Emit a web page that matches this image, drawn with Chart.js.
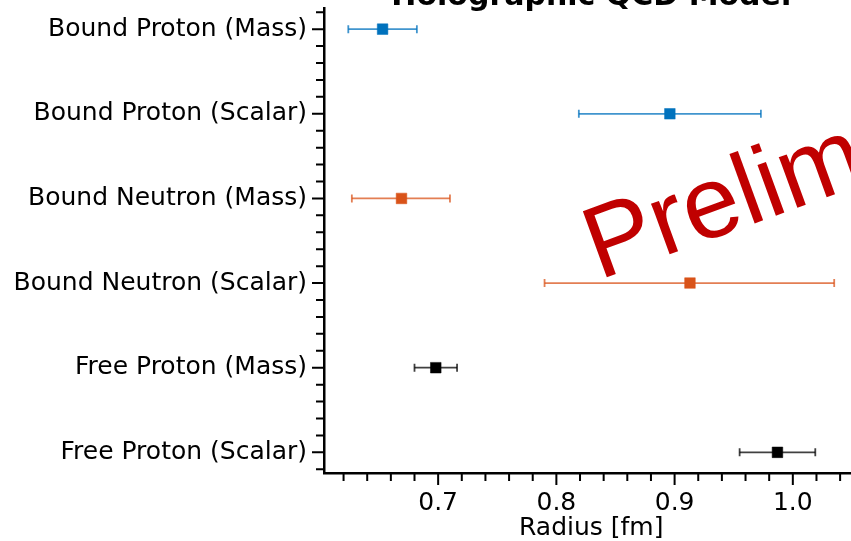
<!DOCTYPE html>
<html>
<head>
<meta charset="utf-8">
<script src="https://cdn.jsdelivr.net/npm/chart.js@4.4.0/dist/chart.umd.min.js"></script>
<style>
  html, body { margin: 0; padding: 0; background: #fff; overflow: hidden; }
  #wrap { position: absolute; left: 0; top: 0; width: 900px; height: 541px; }
</style>
</head>
<body>
<div id="wrap"><canvas id="radii" width="900" height="541"></canvas></div>
<script>
// radius estimates with their error ranges, one row per quantity
const categories = [
  'Bound Proton (Mass)',
  'Bound Proton (Scalar)',
  'Bound Neutron (Mass)',
  'Bound Neutron (Scalar)',
  'Free Proton (Mass)',
  'Free Proton (Scalar)'
];
const radius  = [0.653, 0.896, 0.669, 0.913, 0.698, 0.987];
const errLow  = [0.624, 0.819, 0.627, 0.790, 0.680, 0.955];
const errHigh = [0.682, 0.973, 0.710, 1.035, 0.716, 1.019];
const xMajor  = [0.7, 0.8, 0.9, 1.0];

const markerColors = ['#0072BD', '#0072BD', '#D95319', '#D95319', '#000000', '#000000'];
const barColors = [
  'rgba(0,114,189,0.75)', 'rgba(0,114,189,0.75)',
  'rgba(217,83,25,0.75)', 'rgba(217,83,25,0.75)',
  'rgba(0,0,0,0.75)', 'rgba(0,0,0,0.75)'
];

// 5% margin on each side, like matplotlib autoscaling
const lo = Math.min(...errLow), hi = Math.max(...errHigh);
const xMin = lo - 0.05 * (hi - lo);
const xMax = hi + 0.05 * (hi - lo);

const font = { family: 'DejaVu Sans', size: 25 };

// outward major/minor tick marks on both axes
const axisTicks = {
  id: 'axisTicks',
  afterDraw(chart) {
    const { ctx, chartArea: a, scales: { x, y } } = chart;
    ctx.save();
    ctx.strokeStyle = '#000';
    ctx.lineWidth = 2;
    ctx.beginPath();
    for (let i = 31; i <= 52; i++) {
      const px = x.getPixelForValue(i * 0.02);
      if (px < a.left || px > a.right) continue;
      const len = i % 5 === 0 ? 11.5 : 7.5;
      ctx.moveTo(px, a.bottom);
      ctx.lineTo(px, a.bottom + len);
    }
    for (let j = -1; j <= 26; j++) {
      const py = y.getPixelForValue(j * 0.2);
      const len = j % 5 === 0 ? 12 : 8;
      ctx.moveTo(a.left, py);
      ctx.lineTo(a.left - len, py);
    }
    ctx.stroke();
    ctx.restore();
  }
};

// heading above the axes and the red stamp across the plot
const headings = {
  id: 'headings',
  afterDraw(chart) {
    const { ctx, chartArea: a } = chart;
    ctx.save();
    ctx.fillStyle = '#000';
    ctx.font = 'bold 30px "DejaVu Sans"';
    ctx.textAlign = 'center';
    ctx.textBaseline = 'alphabetic';
    ctx.fillText('Holographic QCD Model', (a.left + a.right) / 2, a.top - 3);

    ctx.translate(a.left + 275, a.top + 272);
    ctx.rotate(-20 * Math.PI / 180);
    ctx.fillStyle = '#C00000';
    ctx.font = '102px "Liberation Sans"';
    ctx.textAlign = 'left';
    ctx.fillText('Preliminary', 0, 0);
    ctx.restore();
  }
};

const markers = {
  data: categories.map((c, i) => ({ x: radius[i], y: i })),
  pointStyle: 'rect',
  pointRadius: 7.5,
  pointBackgroundColor: markerColors,
  pointBorderColor: markerColors,
  pointBorderWidth: 0.5,
  showLine: false
};

const bars = categories.map((c, i) => ({
  data: [{ x: errLow[i], y: i }, { x: errHigh[i], y: i }],
  showLine: true,
  borderColor: barColors[i],
  borderWidth: 1.8,
  pointStyle: 'line',
  pointRotation: 90,
  pointRadius: 4,
  pointBorderColor: barColors[i],
  pointBackgroundColor: barColors[i],
  pointBorderWidth: 1.8
}));

new Chart(document.getElementById('radii'), {
  type: 'scatter',
  data: { datasets: [markers, ...bars] },
  options: {
    responsive: false,
    animation: false,
    events: [],
    layout: { padding: { top: 7, right: 41.5, bottom: 0, left: 0 } },
    plugins: {
      legend: { display: false },
      tooltip: { enabled: false }
    },
    scales: {
      x: {
        type: 'linear',
        min: xMin,
        max: xMax,
        afterBuildTicks: s => { s.ticks = xMajor.map(v => ({ value: v })); },
        afterFit: s => { s.height = 67.5; s.paddingLeft = 0; s.paddingRight = 0; },
        grid: { display: false },
        border: { color: '#000', width: 2.5 },
        ticks: {
          color: '#000',
          font,
          padding: 7,
          maxRotation: 0,
          callback: v => v.toFixed(1)
        },
        title: {
          display: true,
          text: 'Radius [fm]',
          color: '#000',
          font,
          padding: { top: 0, bottom: -2 }
        }
      },
      y: {
        type: 'linear',
        reverse: true,
        min: -0.25,
        max: 5.25,
        afterBuildTicks: s => { s.ticks = categories.map((c, i) => ({ value: i })); },
        afterFit: s => { s.width = 324; s.paddingTop = 0; s.paddingBottom = 0; },
        grid: { display: false },
        border: { color: '#000', width: 2.5 },
        ticks: {
          color: '#000',
          font,
          padding: 9,
          callback: v => categories[v]
        }
      }
    }
  },
  plugins: [axisTicks, headings]
});
</script>
</body>
</html>
